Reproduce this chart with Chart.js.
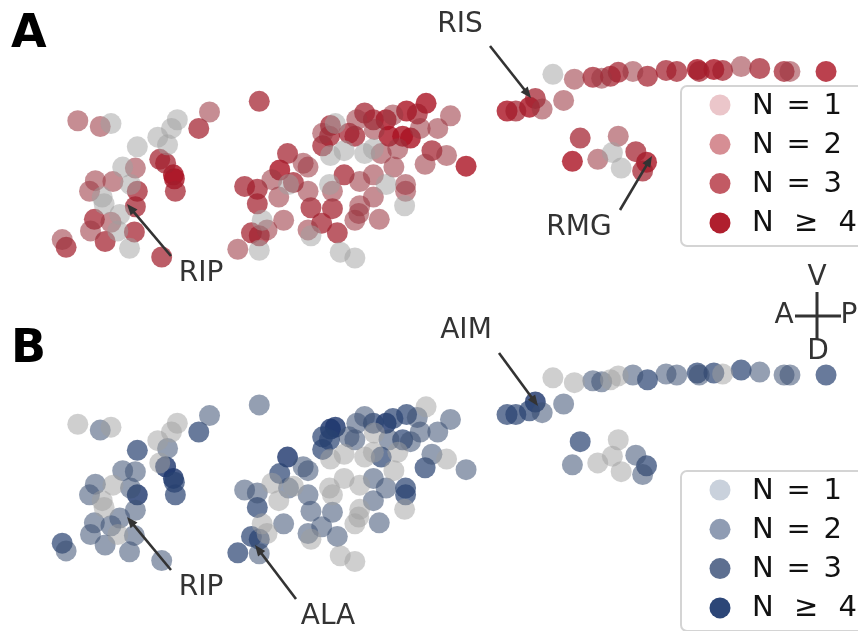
<!DOCTYPE html>
<html>
<head>
<meta charset="utf-8">
<script src="https://cdn.jsdelivr.net/npm/chart.js@4/dist/chart.umd.min.js"></script>
<style>
  html, body { margin: 0; padding: 0; background: #fff; }
  #wrap { position: relative; width: 858px; height: 631px; }
</style>
</head>
<body>
<div id="wrap"><canvas id="cellChart" width="858" height="631"></canvas></div>
<script>
// cell body positions (same cells in both panels)
const posX = [69, 92, 103, 204, 193, 171, 165, 151, 161, 130, 153, 159, 167, 168, 169, 115, 128, 105, 87, 81,
  123, 130, 94, 96, 128, 112, 86, 103, 82, 110, 127, 97, 53, 57, 122, 155,
  255, 426, 406, 417, 451, 392, 363, 372, 385, 355, 333, 328, 320, 327, 347, 353, 373, 388, 402, 410,
  420, 438, 320, 328, 342, 363, 372, 380, 397, 432, 447, 467, 425, 284, 305, 300, 276, 268, 290, 240,
  253, 253, 275, 305, 327, 330, 342, 358, 372, 385, 393, 405, 405, 404, 372, 358, 357, 353, 378, 330,
  308, 319, 305, 308, 335, 280, 263, 247, 255, 233, 255, 338, 353, 258, 285,
  556, 578, 597, 606, 615, 623, 638, 653, 672, 683, 704, 706, 721, 730, 749, 768, 793, 799, 836,
  509, 518, 532, 538, 545, 567, 584, 576, 602, 623, 617, 641, 652, 626, 648];
const posY = [114, 120, 117, 105, 122, 113, 122, 131, 139, 141, 154, 158, 170, 174, 187, 162, 163, 177, 176, 187,
  180, 187, 193, 200, 203, 211, 216, 219, 228, 228, 229, 239, 237, 245, 246, 255,
  94, 96, 104, 107, 109, 108, 106, 113, 113, 113, 117, 119, 127, 130, 127, 130, 123, 130, 130, 132,
  122, 122, 140, 150, 145, 148, 143, 148, 143, 145, 150, 161, 159, 148, 162, 158, 165, 175, 178, 182,
  185, 200, 193, 187, 180, 187, 170, 177, 170, 180, 162, 180, 187, 202, 193, 202, 210, 217, 216, 205,
  204, 220, 227, 233, 230, 217, 227, 230, 233, 247, 248, 250, 256, 217, 180,
  66, 71, 69, 70, 68, 64, 63, 68, 62, 63, 61, 63, 61, 62, 58, 60, 63, 63, 63,
  104, 104, 100, 91, 102, 93, 132, 156, 154, 130, 147, 146, 157, 163, 166];

// group per cell: 0 = none, 1 = N 1, 2 = N 2, 3 = N >= 3
const groupA = [1, 1, 0, 1, 2, 0, 0, 0, 0, 0, 2, 2, 3, 3, 2, 0, 1, 1, 1, 1,
  0, 2, 0, 0, 2, 0, 2, 1, 1, 0, 2, 2, 1, 2, 0, 2,
  2, 3, 3, 2, 1, 1, 2, 2, 3, 1, 0, 2, 1, 2, 2, 2, 1, 3, 3, 3,
  1, 1, 2, 0, 0, 0, 0, 1, 1, 2, 1, 3, 1, 2, 1, 1, 3, 1, 2, 2,
  2, 2, 1, 1, 0, 1, 2, 1, 1, 0, 1, 1, 1, 0, 1, 1, 1, 1, 1, 2,
  2, 2, 1, 0, 2, 1, 1, 2, 2, 1, 0, 0, 0, 0, 0,
  0, 1, 2, 1, 2, 2, 1, 2, 2, 2, 3, 2, 3, 2, 1, 2, 2, 1, 3,
  3, 2, 3, 2, 1, 1, 2, 3, 1, 1, 0, 2, 3, 0, 2];
const groupB = [0, 1, 0, 1, 2, 0, 0, 0, 1, 2, 0, 3, 3, 2, 2, 1, 1, 0, 1, 1,
  1, 3, 0, 0, 1, 1, 1, 1, 1, 0, 1, 1, 2, 1, 1, 1,
  1, 0, 2, 1, 1, 2, 1, 2, 3, 1, 3, 3, 2, 2, 1, 1, 0, 1, 2, 1,
  1, 1, 2, 0, 0, 0, 0, 2, 0, 1, 0, 1, 2, 3, 1, 1, 2, 0, 0, 1,
  1, 2, 0, 1, 0, 0, 0, 0, 1, 1, 0, 2, 2, 0, 1, 0, 0, 0, 1, 1,
  1, 1, 1, 0, 1, 1, 0, 2, 2, 2, 1, 0, 0, 0, 1,
  0, 0, 1, 1, 0, 0, 1, 2, 1, 1, 2, 1, 2, 0, 2, 1, 1, 1, 2,
  2, 2, 2, 3, 1, 1, 2, 1, 0, 0, 0, 1, 2, 0, 1];

const legendLabels = ['N = 1', 'N = 2', 'N = 3', 'N \u2265 4'];
const legendColorsA = ['#ebc6ca', '#d68e94', '#c25a64', '#b01f2e'];
const legendColorsB = ['#c9d1dc', '#8f9cb3', '#5d6f90', '#2c4677'];
const pointColorsA = ['rgba(160,160,160,0.5)', 'rgba(155,55,65,0.57)', 'rgba(162,30,45,0.72)', 'rgba(170,18,34,0.8)'];
const pointColorsB = ['rgba(160,160,160,0.5)', 'rgba(60,80,115,0.55)', 'rgba(40,65,112,0.7)', 'rgba(28,52,108,0.8)'];

const FONT = '"DejaVu Sans", sans-serif';

function buildDatasets(groups, colors, axisId) {
    const sets = [];
    for (let g = 0; g < colors.length; g++) {
        const pts = [];
        posX.forEach((x, i) => {
            if (groups[i] === g) pts.push({ x: x, y: posY[i] });
        });
        sets.push({
            data: pts,
            yAxisID: axisId,
            backgroundColor: colors[g],
            borderWidth: 0,
            pointRadius: 10.5,
            pointHoverRadius: 10.5,
            clip: false
        });
    }
    return sets;
}

// arrow from text to a cell
function drawArrow(ctx, x1, y1, x2, y2) {
    const ang = Math.atan2(y2 - y1, x2 - x1);
    ctx.save();
    ctx.strokeStyle = '#333';
    ctx.fillStyle = '#333';
    ctx.lineWidth = 2.6;
    ctx.beginPath();
    ctx.moveTo(x1, y1);
    ctx.lineTo(x2 - 6 * Math.cos(ang), y2 - 6 * Math.sin(ang));
    ctx.stroke();
    ctx.beginPath();
    ctx.moveTo(x2, y2);
    ctx.lineTo(x2 - 11 * Math.cos(ang) + 4.5 * Math.sin(ang), y2 - 11 * Math.sin(ang) - 4.5 * Math.cos(ang));
    ctx.lineTo(x2 - 11 * Math.cos(ang) - 4.5 * Math.sin(ang), y2 - 11 * Math.sin(ang) + 4.5 * Math.cos(ang));
    ctx.closePath();
    ctx.fill();
    ctx.restore();
}

function drawLegend(ctx, top, colors) {
    ctx.save();
    ctx.beginPath();
    ctx.roundRect(681, top, 200, 160, 6);
    ctx.fillStyle = 'rgba(255,255,255,0.85)';
    ctx.fill();
    ctx.strokeStyle = '#d4d4d4';
    ctx.lineWidth = 2;
    ctx.stroke();
    ctx.font = '29px ' + FONT;
    ctx.textBaseline = 'middle';
    ctx.textAlign = 'left';
    legendLabels.forEach((lab, i) => {
        const y = top + 19 + i * 39.3;
        ctx.beginPath();
        ctx.arc(720, y, 10.5, 0, Math.PI * 2);
        ctx.fillStyle = colors[i];
        ctx.fill();
        ctx.fillStyle = '#111';
        ctx.wordSpacing = lab.indexOf('\u2265') >= 0 ? '11px' : '3.5px';
        ctx.fillText(lab, 752, y + 1);
    });
    ctx.restore();
}

const annotations = {
    id: 'annotations',
    afterDatasetsDraw(chart) {
        const ctx = chart.ctx;
        ctx.save();
        // panel letters
        ctx.fillStyle = '#000';
        ctx.font = 'bold 46px ' + FONT;
        ctx.textBaseline = 'alphabetic';
        ctx.textAlign = 'left';
        ctx.fillText('A', 11, 47);
        ctx.fillText('B', 11, 362);

        // cell labels
        ctx.fillStyle = '#333';
        ctx.font = '28px ' + FONT;
        ctx.textAlign = 'center';
        ctx.textBaseline = 'middle';
        ctx.fillText('RIS', 460, 25);
        ctx.fillText('RIP', 201, 274);
        ctx.fillText('RMG', 579, 228);
        ctx.fillText('AIM', 466, 331);
        ctx.fillText('RIP', 201, 588);
        ctx.fillText('ALA', 328, 617);
        ctx.restore();

        drawArrow(ctx, 490, 46, 531, 98);
        drawArrow(ctx, 171, 256, 127, 204);
        drawArrow(ctx, 620, 210, 652, 156);
        drawArrow(ctx, 499, 353, 538, 406);
        drawArrow(ctx, 171, 570, 127, 517);
        drawArrow(ctx, 296, 599, 255, 545);

        drawLegend(ctx, 86, legendColorsA);
        drawLegend(ctx, 471, legendColorsB);

        // orientation cross
        ctx.save();
        ctx.strokeStyle = '#333';
        ctx.lineWidth = 3;
        ctx.beginPath();
        ctx.moveTo(795, 316);
        ctx.lineTo(841, 316);
        ctx.moveTo(817, 292);
        ctx.lineTo(817, 340);
        ctx.stroke();
        ctx.fillStyle = '#333';
        ctx.font = '28px ' + FONT;
        ctx.textAlign = 'center';
        ctx.textBaseline = 'middle';
        ctx.fillText('V', 817, 278);
        ctx.fillText('A', 784, 316);
        ctx.fillText('P', 849, 316);
        ctx.fillText('D', 818, 352);
        ctx.restore();
    }
};

const ctx = document.getElementById('cellChart').getContext('2d');
new Chart(ctx, {
    type: 'scatter',
    data: {
        datasets: buildDatasets(groupA, pointColorsA, 'yA').concat(buildDatasets(groupB, pointColorsB, 'yB'))
    },
    options: {
        responsive: false,
        animation: false,
        layout: { padding: 0 },
        plugins: { legend: { display: false }, tooltip: { enabled: false } },
        scales: {
            x: { type: 'linear', min: 0, max: 858, display: false },
            yA: { type: 'linear', min: 0, max: 631, reverse: true, display: false },
            yB: { type: 'linear', min: -314, max: 317, reverse: true, display: false }
        }
    },
    plugins: [annotations]
});
</script>
</body>
</html>
